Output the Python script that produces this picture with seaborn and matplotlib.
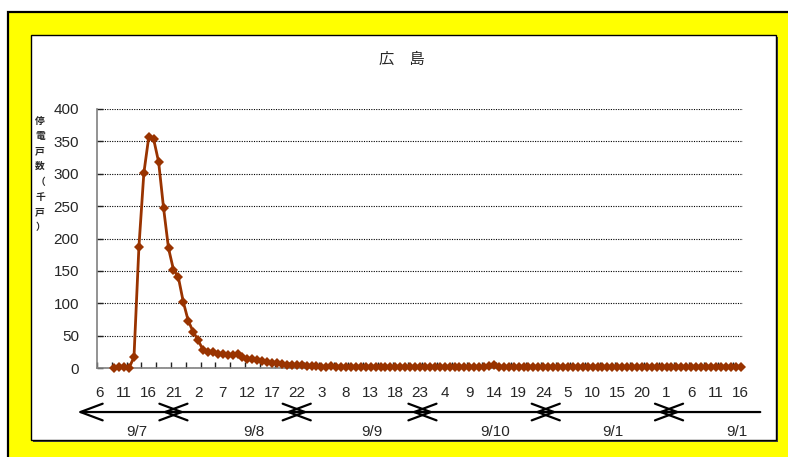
# -*- coding: utf-8 -*-
# 広島の停電戸数（千戸）の推移、1時間ごと
import numpy as np
import pandas as pd
import matplotlib
matplotlib.use('Agg')
import matplotlib.pyplot as plt
from matplotlib.patches import Rectangle
from matplotlib.ticker import FixedLocator
import seaborn as sns

# データ（値は図から読み取り）
title = '広　島'
ylabel_chars = ['停', '電', '戸', '数', '（', '千', '戸', '）']
hour_labels = ['6', '11', '16', '21', '2', '7', '12', '17', '22', '3', '8', '13', '18', '23',
               '4', '9', '14', '19', '24', '5', '10', '15', '20', '1', '6', '11', '16']
day_labels = ['9/7', '9/8', '9/9', '9/10', '9/1', '9/1']
outage = [np.nan, np.nan, np.nan, 0, 2, 1, 0, 17, 187, 301,
          357, 353, 318, 247, 185, 152, 140, 102, 73, 56,
          43, 28, 24, 24, 22, 21, 20, 20, 21, 17,
          14, 14, 12, 11, 9, 8, 7, 6, 5, 5,
          4, 4, 3, 3, 3, 2, 2, 3, 2, 2,
          2, 2, 2, 2, 2, 2, 2, 1, 2, 2,
          2, 2, 1, 1, 1, 1, 1, 1, 1, 1,
          1, 1, 1, 1, 1, 1, 1, 1, 2, 3,
          4, 2, 1, 1, 1, 1, 1, 1, 1, 1,
          1, 1, 1, 1, 1, 1, 1, 1, 1, 1,
          1, 1, 1, 1, 1, 1, 1, 1, 1, 1,
          1, 1, 1, 1, 1, 1, 1, 1, 1, 1,
          1, 1, 1, 1, 1, 1, 1, 1, 1, 1, 1]

# 矢印と日付ラベルの位置（横軸の目盛り単位）
arrow_x = [-4.5, 15, 40, 65.5, 90.5, 115.5, 134]
day_x = [7.6, 31.3, 55.3, 80.2, 104.2, 129.3]
overlap = 2.3

df = pd.DataFrame({'idx': np.arange(len(outage)), 'val': outage})

sns.set_style('white')
plt.rcParams['font.family'] = ['Liberation Sans', 'Noto Sans CJK JP', 'DejaVu Sans']

W, H = 788, 457
fig = plt.figure(figsize=(W / 100, H / 100), dpi=100)
fig.patch.set_facecolor('white')

# 黄色の枠と白いパネル
fig.patches.append(Rectangle((8 / W, -0.05), (W - 8) / W + 0.05, (H - 12) / H + 0.05,
                             transform=fig.transFigure, facecolor='#FFFF00',
                             edgecolor='black', lw=1.6, zorder=0))
fig.patches.append(Rectangle((33 / W, 1 - 442 / H), 745 / W, 405 / H,
                             transform=fig.transFigure, facecolor='#404040',
                             edgecolor='none', zorder=0.5))
fig.patches.append(Rectangle((31 / W, 1 - 440 / H), 745 / W, 405 / H,
                             transform=fig.transFigure, facecolor='white',
                             edgecolor='black', lw=1.0, zorder=1))

ax = fig.add_axes([97 / W, 1 - 368 / H, 646 / W, 259 / H])
ax.set_zorder(3)
ax.set_facecolor('none')

sns.lineplot(data=df, x='idx', y='val', ax=ax, color='#993300', lw=2.0,
             marker='D', markersize=5, markeredgewidth=0, clip_on=False, zorder=5)

ax.set_xlim(-0.5, len(outage) - 0.5)
ax.set_ylim(0, 400)
ax.set_yticks(range(0, 401, 50))
ax.set_xticks(range(0, len(outage), 5))
ax.set_xticklabels(hour_labels)
ax.xaxis.set_minor_locator(FixedLocator(np.arange(-0.5, len(outage), 3)))
ax.tick_params(axis='x', which='major', length=0, pad=13, labelsize=11)
ax.tick_params(axis='x', which='minor', direction='in', length=4, width=1, color='#222222', bottom=True)
ax.tick_params(axis='y', direction='in', length=4, width=1, color='#222222', left=True,
               pad=13, labelsize=11)
ax.set_xlabel('')
ax.set_ylabel('')
ax.yaxis.grid(True, linestyle=(0, (1, 1.2)), color='black', lw=0.8)
ax.xaxis.grid(False)
for s in ['top', 'right']:
    ax.spines[s].set_visible(False)
for s in ['left', 'bottom']:
    ax.spines[s].set_color('#808080')
    ax.spines[s].set_linewidth(1.2)

# タイトルと縦書きの軸ラベル
fig.text(402 / W, 1 - 59 / H, title, ha='center', va='center', fontsize=11,
         family=['Noto Sans CJK JP'], zorder=4)
fig.text(40 / W, 1 - 174 / H, '\n'.join(ylabel_chars), ha='center', va='center',
         fontsize=7, fontweight='bold', linespacing=1.65, family=['Noto Sans CJK JP'], zorder=4)

# 日付の矢印（隣り合う矢じりが交差する）
xt = ax.get_xaxis_transform()
n_seg = len(arrow_x) - 1
for k in range(n_seg):
    x0 = arrow_x[k] - (overlap if k > 0 else 0)
    last = k == n_seg - 1
    x1 = arrow_x[k + 1] + (0 if last else overlap)
    style = '<-' if last else '<->'
    ax.annotate('', xy=(x1, -0.17), xytext=(x0, -0.17),
                xycoords=xt, textcoords=xt, annotation_clip=False,
                arrowprops=dict(arrowstyle=style + ', head_length=0.8, head_width=0.3',
                                mutation_scale=20, lw=1.6, color='black',
                                shrinkA=0, shrinkB=0))
for x, lab in zip(day_x, day_labels):
    ax.text(x, -0.247, lab, transform=xt, ha='center', va='center', fontsize=11)

plt.savefig('out.png', dpi=100)
